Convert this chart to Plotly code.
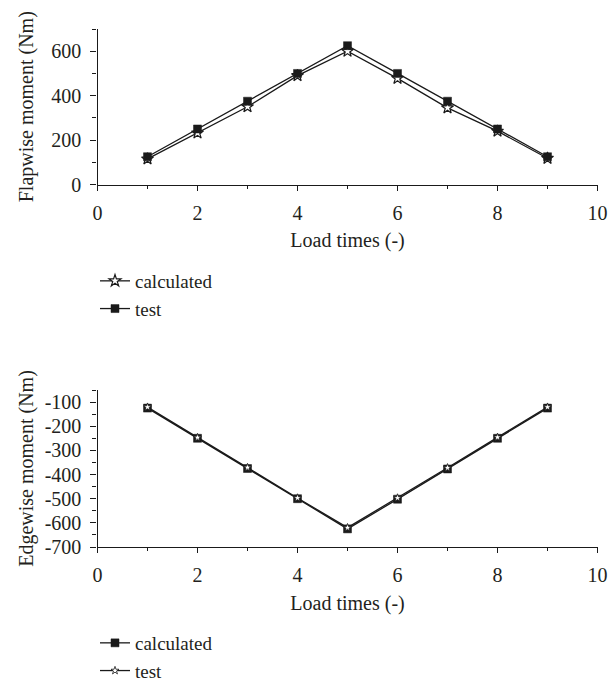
import plotly.graph_objects as go

# Load step index
load_times = [1, 2, 3, 4, 5, 6, 7, 8, 9]

# Flapwise moment (Nm)
flap_calculated = [115, 232, 350, 490, 600, 478, 345, 240, 118]
flap_test = [125, 250, 375, 500, 625, 500, 375, 250, 125]

# Edgewise moment (Nm)
edge_calculated = [-125, -250, -375, -500, -625, -502, -377, -250, -125]
edge_test = [-121, -247, -371, -497, -620, -497, -372, -246, -121]

# Edgewise tick labels use a plain hyphen
edge_ticks = [-100, -200, -300, -400, -500, -600, -700]
edge_ticktext = ["-100", "-200", "-300", "-400", "-500", "-600", "-700"]

FONT = "Liberation Serif"
FS = 20
LEG_FS = 19
INK = "#1a1a1a"
TXT = "#231f20"
W, H = 610, 686
X0, X1 = 97.5, 597.5


def px_x(v):
    return v / W


def px_y(v):
    return 1 - v / H


star = dict(symbol="star", size=9, color="white", line=dict(color=INK, width=1.2))
square = dict(symbol="square", size=8, color=INK, line=dict(color=INK, width=0.5))
line = dict(color=INK, width=1.3)

fig = go.Figure()

fig.add_trace(go.Scatter(x=load_times, y=flap_calculated, name="calculated", mode="lines+markers",
                         line=line, marker=star, xaxis="x", yaxis="y", legend="legend"))
fig.add_trace(go.Scatter(x=load_times, y=flap_test, name="test", mode="lines+markers",
                         line=line, marker=square, xaxis="x", yaxis="y", legend="legend"))

fig.add_trace(go.Scatter(x=load_times, y=edge_calculated, name="calculated", mode="lines+markers",
                         line=line, marker=square, xaxis="x2", yaxis="y2", legend="legend2"))
fig.add_trace(go.Scatter(x=load_times, y=edge_test, name="test", mode="lines+markers",
                         line=line, marker=dict(symbol="star", size=6, color="white",
                                                line=dict(color=INK, width=0.8)),
                         xaxis="x2", yaxis="y2", legend="legend2"))

axis_common = dict(
    showline=True, linecolor=INK, linewidth=1.3, showgrid=False, zeroline=False,
    ticks="outside", tickcolor=INK, tickwidth=1.2,
    tickfont=dict(family=FONT, size=FS, color=TXT),
)

xaxis_common = dict(axis_common, range=[0, 10], dtick=2, tick0=0, ticklen=5, ticklabelstandoff=5,
                    minor=dict(dtick=1, ticks="outside", ticklen=3, tickcolor=INK, tickwidth=1.1),
                    title=dict(text="Load times (-)", font=dict(family=FONT, size=FS, color=TXT),
                               standoff=10))

fig.update_layout(
    width=W, height=H,
    margin=dict(l=0, r=0, t=0, b=0, autoexpand=False),
    paper_bgcolor="white", plot_bgcolor="white",
    font=dict(family=FONT, size=FS, color=TXT),
    xaxis=dict(xaxis_common, domain=[px_x(X0), px_x(X1)], anchor="y"),
    yaxis=dict(axis_common, domain=[px_y(184.5), px_y(29)], anchor="x",
               range=[0, 700], dtick=200, tick0=0, ticklen=6, ticklabelstandoff=5,
               minor=dict(dtick=100, ticks="outside", ticklen=4, tickcolor=INK, tickwidth=1.1),
               title=dict(text="Flapwise moment (Nm)", font=dict(family=FONT, size=FS, color=TXT),
                          standoff=12)),
    xaxis2=dict(xaxis_common, domain=[px_x(X0), px_x(X1)], anchor="y2"),
    yaxis2=dict(axis_common, domain=[px_y(547), px_y(390)], anchor="x2",
                range=[-700, -50], tickvals=edge_ticks, ticktext=edge_ticktext,
                ticklen=6, ticklabelstandoff=5,
                minor=dict(dtick=50, tick0=-700, ticks="outside", ticklen=4, tickcolor=INK, tickwidth=1.1),
                title=dict(text="Edgewise moment (Nm)", font=dict(family=FONT, size=FS, color=TXT),
                           standoff=5)),
    legend=dict(x=px_x(95), y=px_y(262), xanchor="left", yanchor="top",
                font=dict(family=FONT, size=LEG_FS, color=TXT),
                bgcolor="rgba(0,0,0,0)", itemwidth=30, tracegroupgap=0),
    legend2=dict(x=px_x(95), y=px_y(624), xanchor="left", yanchor="top",
                 font=dict(family=FONT, size=LEG_FS, color=TXT),
                 bgcolor="rgba(0,0,0,0)", itemwidth=30, tracegroupgap=0),
)

fig.write_html("out.html")
